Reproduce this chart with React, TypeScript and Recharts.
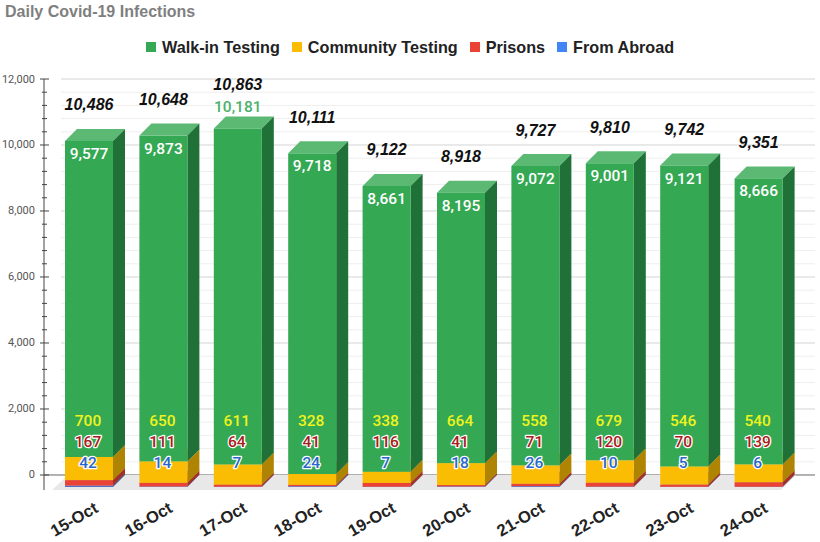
import React from 'react';
import { ComposedChart, Bar, XAxis, YAxis, CartesianGrid, LabelList, ReferenceArea } from 'recharts';

const days = ['15-Oct', '16-Oct', '17-Oct', '18-Oct', '19-Oct', '20-Oct', '21-Oct', '22-Oct', '23-Oct', '24-Oct'];
const walkIn = [9577, 9873, 10181, 9718, 8661, 8195, 9072, 9001, 9121, 8666];
const community = [700, 650, 611, 328, 338, 664, 558, 679, 546, 540];
const prisons = [167, 111, 64, 41, 116, 41, 71, 120, 70, 139];
const abroad = [42, 14, 7, 24, 7, 18, 26, 10, 5, 6];
const totals = [10486, 10648, 10863, 10111, 9122, 8918, 9727, 9810, 9742, 9351];
const walkInAboveBar = ['17-Oct'];
const axisTicks = [0, 400, 800, 1200, 1600, 2000, 2400, 2800, 3200, 3600, 4000, 4400, 4800, 5200, 5600, 6000, 6400, 6800, 7200, 7600, 8000, 8400, 8800, 9200, 9600, 10000, 10400, 10800, 11200, 11600, 12000];
const majorTicks = [0, 2000, 4000, 6000, 8000, 10000, 12000];
const minorTicks = axisTicks.filter((t) => !majorTicks.includes(t));
const gridMajor = majorTicks.filter((t) => t !== 0);
const baseline = [0];

const data = days.map((day, i) => ({
  day,
  walkIn: walkIn[i],
  community: community[i],
  prisons: prisons[i],
  abroad: abroad[i],
  total: totals[i],
}));

const legendItems = [
  { name: 'Walk-in Testing', color: '#34a853' },
  { name: 'Community Testing', color: '#fbbc04' },
  { name: 'Prisons', color: '#ea4335' },
  { name: 'From Abroad', color: '#4285f4' },
];

const D = 12;
const font = 'Roboto, sans-serif';
const boldFont = '"Liberation Sans", Arial, sans-serif';

const Box3D = ({ front, side, top }: { front: string; side: string; top: string }) => (props: any) => {
  const { x, y, width: w, height: h } = props;
  if (!(h > 0)) return <g />;
  return (
    <g>
      <polygon points={`${x},${y + D} ${x + D},${y} ${x + w + D},${y} ${x + w},${y + D}`} fill={top} />
      <polygon points={`${x + w},${y + D} ${x + w + D},${y} ${x + w + D},${y + h} ${x + w},${y + h + D}`} fill={side} />
      <rect x={x} y={y + D} width={w} height={h} fill={front} />
    </g>
  );
};

const rowLabel = (rowY: number, fill: string, outline?: string) => (props: any) => {
  const { x, width, value } = props;
  return (
    <text
      x={x + width / 2 - 1}
      y={rowY}
      textAnchor="middle"
      dominantBaseline="central"
      fontFamily={font}
      fontWeight={500}
      fontSize={15.5}
      fill={fill}
      stroke={outline}
      strokeWidth={outline ? 2.5 : 0}
      strokeLinejoin="round"
      paintOrder="stroke"
    >
      {Number(value).toLocaleString('en-US')}
    </text>
  );
};

const WalkInLabel = (props: any) => {
  const { x, y, width, value, index } = props;
  const above = walkInAboveBar.includes(days[index]);
  return (
    <text
      x={x + width / 2}
      y={above ? y - 10 : y + 25}
      textAnchor="middle"
      dominantBaseline="central"
      fontFamily={font}
      fontWeight={500}
      fontSize={15.5}
      fill={above ? '#4cb26b' : '#ffffff'}
    >
      {Number(value).toLocaleString('en-US')}
    </text>
  );
};

const TotalLabel = (props: any) => {
  const { x, y, width, value, index } = props;
  const above = walkInAboveBar.includes(days[index]);
  return (
    <text
      x={x + width / 2}
      y={y - (above ? 32 : 24)}
      textAnchor="middle"
      dominantBaseline="central"
      fontFamily={boldFont}
      fontStyle="italic"
      fontWeight={700}
      fontSize={16}
      fill="#111111"
    >
      {Number(value).toLocaleString('en-US')}
    </text>
  );
};

const YTick = (props: any) => {
  const { x, y, payload } = props;
  const major = majorTicks.includes(payload.value);
  return (
    <g>
      <line x1={x - (major ? 4 : 2)} x2={x + (major ? 5 : 3)} y1={y} y2={y} stroke="#444" strokeWidth={1} />
      {major && (
        <text x={x - 9} y={y} textAnchor="end" dominantBaseline="central" fontFamily={font} fontSize={11} fill="#555">
          {Number(payload.value).toLocaleString('en-US')}
        </text>
      )}
    </g>
  );
};

const XTick = (props: any) => {
  const { x, y, payload } = props;
  return (
    <text
      transform={`translate(${x + 7},${y + 8}) rotate(-30)`}
      textAnchor="end"
      dominantBaseline="central"
      fontFamily={boldFont}
      fontWeight={700}
      fontSize={16.5}
      fill="#222"
    >
      {payload.value}
    </text>
  );
};

const FloorShape = (props: any) => {
  const { x, y, width, height } = props;
  return (
    <polygon
      points={`${x},${y + height} ${x + 16},${y} ${x + width},${y} ${x + width - 15},${y + height}`}
      fill="#e8e8e8"
    />
  );
};

export default function App() {
  return (
    <div style={{ position: 'absolute', left: 0, top: 0, width: 820, height: 542, background: '#fff', overflow: 'hidden' }}>
      <div
        style={{
          position: 'absolute',
          left: 5,
          top: 2,
          fontFamily: boldFont,
          fontWeight: 700,
          fontSize: 16,
          color: '#7f7f7f',
          lineHeight: '20px',
        }}
      >
        Daily Covid-19 Infections
      </div>
      <div
        style={{
          position: 'absolute',
          left: 146,
          top: 37,
          display: 'flex',
          alignItems: 'center',
          fontFamily: boldFont,
          fontWeight: 700,
          fontSize: 16.2,
          color: '#222',
          lineHeight: '20px',
          whiteSpace: 'nowrap',
        }}
      >
        {legendItems.map((item) => (
          <span key={item.name} style={{ display: 'flex', alignItems: 'center', marginRight: 12 }}>
            <span style={{ width: 10, height: 10, background: item.color, marginRight: 6, display: 'inline-block' }} />
            {item.name}
          </span>
        ))}
      </div>
      <ComposedChart
        width={820}
        height={542}
        data={data}
        margin={{ top: 79, right: 5, bottom: 0, left: 0 }}
        barSize={48}
        barCategoryGap={0}
      >
        <ReferenceArea y1={-455} y2={0} shape={FloorShape} fillOpacity={1} ifOverflow="visible" />
        <CartesianGrid x={61} width={754} vertical={false} horizontalValues={minorTicks} stroke="#eeeeee" syncWithTicks={false} />
        <CartesianGrid x={61} width={754} vertical={false} horizontalValues={gridMajor} stroke="#d4d4d4" syncWithTicks={false} />
        <CartesianGrid x={44} width={771} vertical={false} horizontalValues={baseline} stroke="#666666" syncWithTicks={false} />
        <XAxis
          dataKey="day"
          height={52}
          interval={0}
          axisLine={false}
          tickLine={false}
          padding={{ left: 8, right: 19 }}
          tick={<XTick />}
        />
        <YAxis
          width={44}
          domain={[-455, 12000]}
          ticks={axisTicks}
          interval={0}
          allowDataOverflow
          axisLine={{ stroke: '#444' }}
          tickLine={false}
          tickSize={0}
          tickMargin={0}
          tick={<YTick />}
        />
        <Bar dataKey="abroad" stackId="s" isAnimationActive={false} shape={Box3D({ front: '#4f6fc4', side: '#33508f', top: '#7ea8f7' })}>
          <LabelList dataKey="abroad" content={rowLabel(463, '#2a66c8', '#ffffff')} />
        </Bar>
        <Bar dataKey="prisons" stackId="s" isAnimationActive={false} shape={Box3D({ front: '#ea4335', side: '#a32f25', top: '#ee6a5e' })}>
          <LabelList dataKey="prisons" content={rowLabel(442, '#a81c1c', '#ffffff')} />
        </Bar>
        <Bar dataKey="community" stackId="s" isAnimationActive={false} shape={Box3D({ front: '#fbbc04', side: '#b08403', top: '#fccd43' })}>
          <LabelList dataKey="community" content={rowLabel(421, '#eef31e')} />
        </Bar>
        <Bar dataKey="walkIn" stackId="s" isAnimationActive={false} shape={Box3D({ front: '#34a853', side: '#1f7138', top: '#5bb974' })}>
          <LabelList dataKey="walkIn" content={WalkInLabel} />
          <LabelList dataKey="total" content={TotalLabel} />
        </Bar>
      </ComposedChart>
    </div>
  );
}
